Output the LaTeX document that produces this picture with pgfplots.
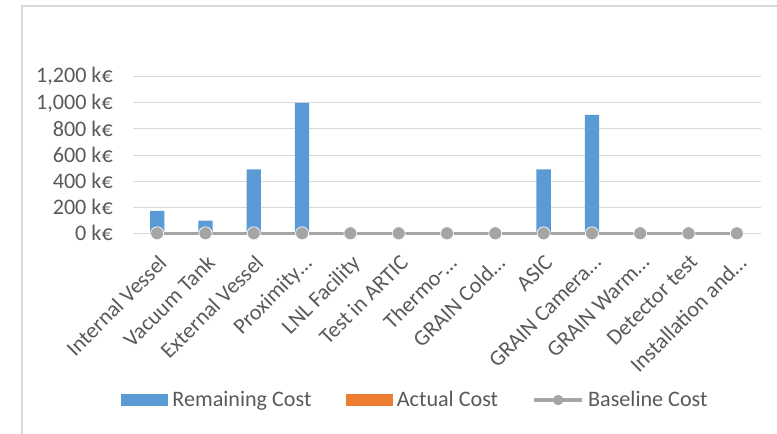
\documentclass[border=0pt]{standalone}
\usepackage{pgfplots}
\pgfplotsset{compat=1.18}
\usepackage{fontspec}
\setmainfont{Carlito}
\definecolor{txt}{RGB}{89,89,89}
\definecolor{barblue}{RGB}{91,155,213}
\definecolor{barorange}{RGB}{237,125,49}
\definecolor{basegray}{RGB}{165,165,165}
\definecolor{gridgray}{RGB}{217,217,217}
\newcommand{\lblfont}{\fontsize{16.6}{19.5}\selectfont}
\begin{document}
\begin{tikzpicture}
\useasboundingbox (0,0) rectangle (582.75pt,325.5pt);
% chart frame
\draw[gridgray, line width=0.9pt] (16.5pt,0pt) -- (16.5pt,321pt) -- (582.75pt,321pt);
\begin{axis}[
  at={(99.75pt,150.5pt)}, anchor=south west,
  scale only axis, width=471pt, height=117.45pt,
  xmin=-0.5, xmax=12.5, ymin=0, ymax=1200,
  ybar, bar width=10.7pt, bar shift=0pt,
  axis line style={draw=none},
  major tick length=0pt,
  ymajorgrids, grid style={gridgray, line width=0.75pt},
  ytick={0,200,400,600,800,1000,1200},
  yticklabels={0 k€,200 k€,400 k€,600 k€,800 k€,{1,000 k€},{1,200 k€}},
  yticklabel style={font=\lblfont, text=txt, inner sep=0pt, xshift=-15pt},
  xtick={0,...,12},
  xticklabels={Internal Vessel,Vacuum Tank,External Vessel,Proximity…,LNL Facility,Test in ARTIC,Thermo-…,GRAIN Cold…,ASIC,GRAIN Camera…,GRAIN Warm…,Detector test,Installation and…},
  xticklabel style={font=\lblfont, text=txt, rotate=45, anchor=north east, inner sep=0pt},
  xticklabel shift=15pt,
  legend columns=3,
  legend style={at={(-0.019,-1.0645)}, anchor=west, draw=none, fill=none, inner sep=0pt,
    font=\lblfont, text=txt,
    nodes={inner sep=3.3pt, anchor=west},
    /tikz/every even column/.append style={column sep=22.5pt}},
  clip=false,
]
\addplot[fill=barblue, draw=none,
  legend image code/.code={\fill[barblue] (0pt,-4.5pt) rectangle (35pt,4.5pt);}]
  coordinates {(0,172) (1,98) (2,490) (3,1000) (4,0) (5,0) (6,0) (7,0) (8,490) (9,908) (10,0) (11,0) (12,0)};
\addlegendentry{Remaining Cost}
\addplot[fill=barorange, draw=none,
  legend image code/.code={\fill[barorange] (0pt,-4.5pt) rectangle (35pt,4.5pt);}]
  coordinates {(0,0) (1,0) (2,0) (3,0) (4,0) (5,0) (6,0) (7,0) (8,0) (9,0) (10,0) (11,0) (12,0)};
\addlegendentry{Actual Cost}
\addplot[sharp plot, draw=basegray, fill=none, line width=2.4pt, mark=*, mark size=4.9pt,
  mark options={fill=basegray, draw=white, line width=0.5pt},
  legend image code/.code={\draw[basegray, line width=2.4pt] (0pt,0pt) -- (36pt,0pt);
     \fill[basegray] (18pt,0pt) circle (2.6pt);}]
  coordinates {(0,0) (1,0) (2,0) (3,0) (4,0) (5,0) (6,0) (7,0) (8,0) (9,0) (10,0) (11,0) (12,0)};
\addlegendentry{Baseline Cost}
\end{axis}
\end{tikzpicture}
\end{document}
